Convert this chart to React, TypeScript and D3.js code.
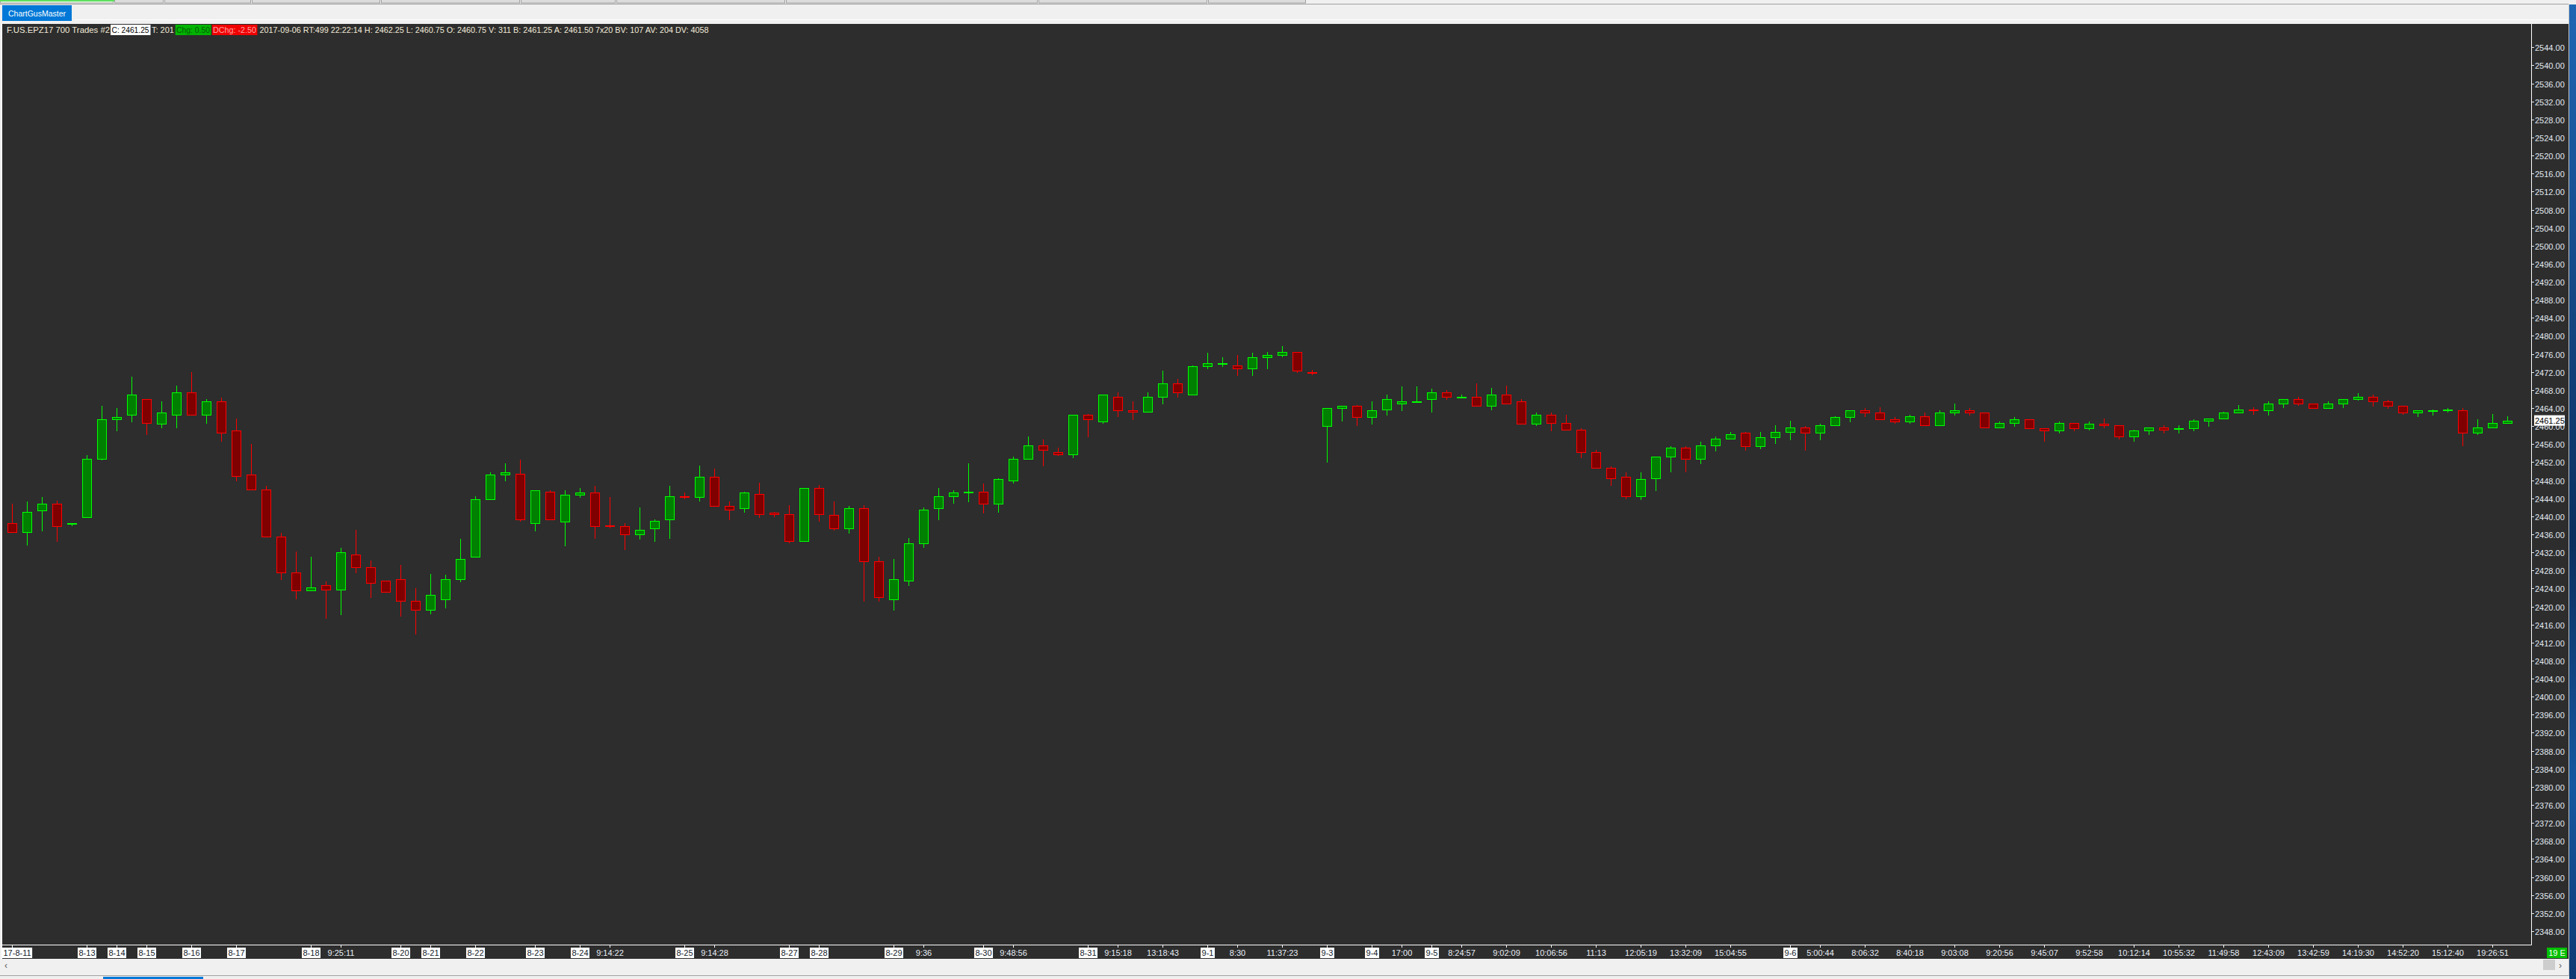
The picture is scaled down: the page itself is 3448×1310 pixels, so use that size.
import * as d3 from 'd3';

// OHLC bars (F.US.EPZ17, 700 trades per bar)
const opens = [
    2438.5, 2436.5, 2441.25, 2442.75, 2438.5, 2439.75, 2452.75, 2461.5, 2462.5, 2466,
    2460.5, 2462.5, 2467.5, 2462.5, 2465.5, 2459, 2449.25, 2446, 2435.5, 2427.5,
    2423.5, 2424.75, 2423.75, 2431.5, 2428.75, 2425.75, 2426, 2421.25, 2419.25, 2421.5,
    2426, 2431, 2443.75, 2449.25, 2449.5, 2438.5, 2445.5, 2438.75, 2444.75, 2445.25,
    2438, 2437.75, 2436, 2437.25, 2439.25, 2444.5, 2444.25, 2448.75, 2442.25, 2441.75,
    2445, 2440.75, 2440.5, 2434.5, 2446.25, 2440.25, 2437.25, 2441.75, 2430, 2421.5,
    2425.75, 2434, 2441.75, 2444.5, 2445.25, 2445.5, 2442.75, 2448, 2452.75, 2455.75,
    2454.25, 2453.75, 2462.5, 2461, 2466.5, 2463.5, 2463.25, 2466.5, 2469.5, 2467,
    2473.25, 2474, 2473.5, 2472.75, 2475.25, 2475.75, 2476.5, 2472, 2460, 2464,
    2464.5, 2462, 2463.75, 2465, 2465.5, 2466, 2467.5, 2466.5, 2466.5, 2464.5,
    2467, 2465.5, 2460.5, 2462.5, 2460.75, 2459.25, 2454.25, 2450.75, 2448.75, 2444.5,
    2448.5, 2453.25, 2455.25, 2452.75, 2455.75, 2457.25, 2458.5, 2455.5, 2457.5, 2458.75,
    2459.75, 2458.5, 2460.25, 2462, 2463.5, 2463, 2461.5, 2461, 2462.25, 2460.25,
    2463, 2463.5, 2463, 2459.75, 2460.75, 2461.5, 2459.5, 2459, 2460.75, 2459.5,
    2460.5, 2460.25, 2457.75, 2459, 2459.75, 2459.5, 2459.5, 2461.25, 2461.75, 2463,
    2463.75, 2463.5, 2465, 2466, 2465, 2464, 2465, 2466, 2466.5, 2465.5,
    2464.5, 2463, 2463.5, 2463.5, 2463.5, 2458.5, 2459.75, 2460.75,
];
const highs = [
    2442.75, 2443.25, 2444.25, 2443.5, 2438.5, 2453.5, 2464.5, 2464, 2471, 2466,
    2465.5, 2469, 2472, 2466, 2466.25, 2461.75, 2456, 2446.75, 2436.25, 2432.25,
    2431, 2425.5, 2433, 2437, 2430.25, 2425.75, 2429.25, 2424, 2427.25, 2427,
    2435, 2444.5, 2449.75, 2451.75, 2452.5, 2445.75, 2445.75, 2445.75, 2446.25, 2446.75,
    2444.25, 2438.5, 2442, 2439.25, 2446.75, 2445.25, 2451.25, 2450.5, 2443.25, 2445.5,
    2447.5, 2441, 2442.5, 2446.25, 2447, 2443.25, 2442.25, 2442.5, 2431, 2430.5,
    2435.25, 2442, 2446.25, 2445.75, 2451.75, 2447.25, 2448.5, 2453.25, 2457.75, 2457,
    2455.25, 2462.5, 2462.75, 2467, 2467.5, 2465.5, 2467.5, 2472.25, 2470.5, 2473.5,
    2476.25, 2475.25, 2475.75, 2476.25, 2476.5, 2477.75, 2476.5, 2472.5, 2464, 2464.5,
    2464.75, 2465.5, 2467, 2468.75, 2468.75, 2468.25, 2468, 2467, 2469.5, 2468.5,
    2469, 2466, 2463, 2463, 2462.5, 2459.5, 2454.75, 2451, 2449.75, 2449.75,
    2453.25, 2455.5, 2455.5, 2456.5, 2457.75, 2458.75, 2458.75, 2458.75, 2460.25, 2461.25,
    2460, 2460.5, 2462.25, 2463.5, 2464, 2464.25, 2462, 2462.5, 2463, 2463.5,
    2465, 2464, 2463, 2461, 2462, 2461.5, 2459.5, 2461, 2460.75, 2461,
    2461.75, 2460.25, 2459.25, 2459.75, 2460.25, 2460.25, 2461.5, 2461.75, 2463.25, 2464.75,
    2464.25, 2465.5, 2466, 2466.5, 2465, 2465.5, 2466, 2467.25, 2467, 2465.75,
    2464.5, 2463.5, 2463.75, 2464, 2464, 2461.5, 2462.75, 2462.25,
];
const lows = [
    2436.5, 2433.75, 2436.75, 2434.5, 2438, 2439.75, 2452.5, 2459, 2461, 2458.25,
    2459.75, 2459.75, 2462.5, 2460.75, 2456.75, 2448, 2446, 2435.5, 2426, 2421.75,
    2423.5, 2417.5, 2418.25, 2427.5, 2422, 2423.25, 2418, 2414, 2418.5, 2419.75,
    2425.5, 2431, 2443.75, 2448, 2439, 2436.75, 2439.25, 2433.5, 2444.25, 2435.25,
    2437.5, 2432.75, 2435, 2434.5, 2435.25, 2444, 2443.5, 2442.25, 2439.25, 2441,
    2439.75, 2440, 2434.25, 2434.5, 2439, 2437, 2436.25, 2421.25, 2421.25, 2419.25,
    2424.75, 2433.25, 2439.25, 2443, 2443.25, 2440.75, 2441, 2447.5, 2452.75, 2451.25,
    2453.5, 2453, 2457.75, 2460.75, 2462.25, 2461.5, 2463.25, 2465, 2466.5, 2467,
    2472.75, 2473.25, 2471.25, 2471.25, 2472.75, 2475.5, 2472, 2471.5, 2452, 2461.25,
    2460.25, 2460.5, 2462.5, 2463.5, 2465.5, 2463.25, 2466, 2466.25, 2464.5, 2463.75,
    2465, 2460.5, 2460.25, 2459, 2459.25, 2453, 2450.75, 2447, 2444, 2443.75,
    2445.75, 2450, 2450, 2451.75, 2454.5, 2457.25, 2454.75, 2455, 2456.25, 2457,
    2454.75, 2457, 2460.25, 2461, 2462.25, 2461.5, 2460.75, 2460.75, 2460.25, 2460.25,
    2462.5, 2462.5, 2459.75, 2459.75, 2460, 2459.5, 2456.75, 2458.5, 2459, 2459.25,
    2459.75, 2457.25, 2456.75, 2458.25, 2458.5, 2458.5, 2459, 2460, 2461.75, 2463,
    2462.75, 2462.5, 2464.25, 2464.75, 2464, 2464, 2464.25, 2465.75, 2464.5, 2464,
    2462.75, 2462.25, 2462.5, 2463.25, 2455.75, 2458.25, 2459.75, 2460.75,
];
const closes = [
    2436.5, 2441, 2442.75, 2437.75, 2438.5, 2452.75, 2461.5, 2462, 2467, 2460.75,
    2463, 2467.5, 2462.5, 2465.5, 2458.5, 2449, 2446, 2435.5, 2427.5, 2423.5,
    2424.25, 2423.75, 2432, 2428.75, 2425.25, 2423.25, 2421.25, 2419.25, 2422.5, 2426,
    2430.5, 2443.75, 2449.25, 2449.75, 2439.25, 2445.75, 2439.25, 2444.75, 2445.25, 2437.75,
    2437.75, 2436, 2437, 2439, 2444.5, 2444.25, 2448.75, 2442.25, 2441.5, 2445.25,
    2440.5, 2440.5, 2434.5, 2446.25, 2440.5, 2437.25, 2441.75, 2430, 2422, 2426,
    2434, 2441.5, 2444.5, 2445.25, 2445.5, 2442.75, 2448.25, 2452.75, 2455.75, 2454.75,
    2453.75, 2462.5, 2461.5, 2467, 2463.5, 2463.25, 2466.5, 2469.5, 2467.5, 2473.25,
    2474, 2474, 2472.75, 2475.25, 2475.75, 2476.5, 2472.25, 2471.75, 2464, 2464.5,
    2462, 2463.5, 2466, 2465.5, 2465.5, 2467.5, 2466.5, 2466.5, 2464.5, 2467,
    2465, 2460.5, 2462.5, 2460.75, 2459.25, 2454.25, 2450.75, 2448.5, 2444.5, 2448.25,
    2453.25, 2455.25, 2452.75, 2455.75, 2457.25, 2458.25, 2455.5, 2457.5, 2458.75, 2459.75,
    2458.5, 2460.25, 2462, 2463.5, 2463, 2461.5, 2461, 2462.25, 2460.25, 2463,
    2463.5, 2463, 2459.75, 2460.75, 2461.5, 2459.5, 2459, 2460.75, 2459.5, 2460.5,
    2460.25, 2457.75, 2459, 2459.75, 2459.25, 2459.5, 2461.25, 2461.75, 2463, 2463.75,
    2463.5, 2465, 2466, 2465, 2464, 2465, 2466, 2466.5, 2465.5, 2464.5,
    2463, 2463.5, 2463.5, 2463.75, 2458.5, 2459.75, 2460.75, 2461.25,
];

// time axis labels: bar index -> text (dates get a white box)
const tickIndex = [
    0, 5, 7, 9, 12, 15, 20, 22, 26, 28, 31, 35, 38, 40, 45, 47, 52, 54, 59, 61,
    65, 67, 72, 74, 77, 80, 82, 85, 88, 91, 93, 95, 97, 100, 103, 106, 109, 112, 115, 119,
    121, 124, 127, 130, 133, 136, 139, 142, 145, 148, 151, 154, 157, 160, 163, 166,
];
const tickLabels = [
    '17-8-11', '8-13', '8-14', '8-15', '8-16', '8-17', '8-18', '9:25:11', '8-20', '8-21',
    '8-22', '8-23', '8-24', '9:14:22', '8-25', '9:14:28', '8-27', '8-28', '8-29', '9:36',
    '8-30', '9:48:56', '8-31', '9:15:18', '13:18:43', '9-1', '8:30', '11:37:23', '9-3', '9-4',
    '17:00', '9-5', '8:24:57', '9:02:09', '10:06:56', '11:13', '12:05:19', '13:32:09', '15:04:55', '9-6',
    '5:00:44', '8:06:32', '8:40:18', '9:03:08', '9:20:56', '9:45:07', '9:52:58', '10:12:14', '10:55:32', '11:49:58',
    '12:43:09', '13:42:59', '14:19:30', '14:52:20', '15:12:40', '19:26:51',
];
const priceTicks = d3.range(2348, 2545, 4);
const lastPrice = 2461.25;

const headerSymbol = 'F.US.EPZ17  700 Trades  #2';
const headerClose = 'C: 2461.25';
const headerTicks = 'T: 201';
const headerChg = 'Chg: 0.50';
const headerDChg = 'DChg: -2.50';
const headerInfo = '2017-09-06 RT:499 22:22:14 H: 2462.25 L: 2460.75 O: 2460.75 V: 311 B: 2461.25 A: 2461.50 7x20 BV: 107 AV: 204 DV: 4058';

const W = 3448;
const H = 1310;
const FONT = '"Liberation Sans", Arial, sans-serif';

export default function App() {
    return (
        <svg
            width={W}
            height={H}
            style={{ position: 'absolute', left: 0, top: 0, display: 'block' }}
            ref={(node: SVGSVGElement) => {
                if (!node) return;
                const svg = d3.select(node);
                svg.selectAll('*').remove();
                svg.attr('font-family', FONT).attr('font-size', 11);

                const plot = { left: 3, right: 3388, top: 32, bottom: 1264 };

                // window chrome
                svg.append('rect').attr('width', W).attr('height', H).attr('fill', '#f0f0f0');

                const defs = svg.append('defs');
                const grad = defs.append('linearGradient').attr('id', 'desk').attr('x1', 0).attr('y1', 0).attr('x2', 0).attr('y2', 1);
                grad.append('stop').attr('offset', '0%').attr('stop-color', '#1f66b3');
                grad.append('stop').attr('offset', '55%').attr('stop-color', '#0b2f5e');
                grad.append('stop').attr('offset', '80%').attr('stop-color', '#1558a0');
                grad.append('stop').attr('offset', '100%').attr('stop-color', '#0d3a73');
                svg.append('rect').attr('x', 3439).attr('y', 6).attr('width', 9).attr('height', H - 6).attr('fill', 'url(#desk)');

                defs.append('clipPath').attr('id', 'plotClip')
                    .append('rect').attr('x', plot.left).attr('y', plot.top)
                    .attr('width', plot.right - plot.left).attr('height', plot.bottom - plot.top);

                // tab strip on top
                const tabEdges = [0, 153, 220, 337, 510, 697, 825, 1052, 1390, 1617, 1749];
                tabEdges.slice(0, -1).forEach((x0, i) => {
                    svg.append('rect').attr('x', x0 + 0.5).attr('y', -1).attr('width', tabEdges[i + 1] - x0 - 2).attr('height', 5)
                        .attr('fill', i === 0 ? '#e8f8e8' : '#dcdcdc').attr('stroke', '#a0a0a0');
                });
                svg.append('rect').attr('x', 0).attr('y', 0).attr('width', 153).attr('height', 2).attr('fill', '#5ee05e');
                svg.append('line').attr('x1', 0).attr('x2', 3438).attr('y1', 5.5).attr('y2', 5.5).attr('stroke', '#a0a0a0');
                svg.append('line').attr('x1', 100).attr('x2', 3437).attr('y1', 26.5).attr('y2', 26.5).attr('stroke', '#ffffff');

                svg.append('rect').attr('x', 3).attr('y', 7).attr('width', 93).attr('height', 21).attr('fill', '#0078d7');
                svg.append('text').attr('x', 49.5).attr('y', 21.5).attr('text-anchor', 'middle')
                    .attr('fill', '#ffffff').attr('font-size', 10.5).text('ChartGusMaster');

                // chart panel
                svg.append('rect').attr('x', 3).attr('y', plot.top).attr('width', 3435).attr('height', 1283 - plot.top).attr('fill', '#2d2d2d');
                svg.append('line').attr('x1', 2.5).attr('x2', 2.5).attr('y1', plot.top).attr('y2', 1283).attr('stroke', '#ffffff');
                svg.append('line').attr('x1', 3438.5).attr('x2', 3438.5).attr('y1', 6).attr('y2', 1306).attr('stroke', '#c8c8c8');

                // scales
                const x = d3.scaleBand<number>()
                    .domain(d3.range(opens.length))
                    .range([5.6, 5.6 + 20 * opens.length])
                    .paddingInner(0.4)
                    .paddingOuter(0.2);
                const y = d3.scaleLinear().domain([2348, 2544]).range([1246, 63.3]);

                // candles
                const candles = svg.append('g').attr('clip-path', 'url(#plotClip)').attr('shape-rendering', 'crispEdges');
                opens.forEach((o, i) => {
                    const c = closes[i];
                    const up = c >= o;
                    const stroke = up ? '#00ff00' : '#ff0000';
                    const fill = up ? '#008000' : '#800000';
                    const bx = Math.round(x(i) || 0);
                    const cx = bx + 6.5;
                    candles.append('line')
                        .attr('x1', cx).attr('x2', cx)
                        .attr('y1', Math.round(y(highs[i]))).attr('y2', Math.round(y(lows[i])) + 1)
                        .attr('stroke', stroke).attr('stroke-width', 1);
                    const top = Math.round(y(Math.max(o, c))) + 0.5;
                    const bottom = Math.round(y(Math.min(o, c))) + 0.5;
                    candles.append('rect')
                        .attr('x', bx + 0.5).attr('y', top)
                        .attr('width', 12).attr('height', Math.max(bottom - top, 1))
                        .attr('fill', fill).attr('stroke', stroke).attr('stroke-width', 1);
                });

                // axis lines
                svg.append('line').attr('x1', plot.left).attr('x2', plot.right + 0.5)
                    .attr('y1', plot.bottom + 0.5).attr('y2', plot.bottom + 0.5).attr('stroke', '#ffffff');
                svg.append('line').attr('x1', plot.right + 0.5).attr('x2', plot.right + 0.5)
                    .attr('y1', plot.top).attr('y2', plot.bottom + 0.5).attr('stroke', '#ffffff');

                // price axis
                const yAxis = svg.append('g');
                priceTicks.forEach((p) => {
                    const py = Math.round(y(p)) + 0.5;
                    yAxis.append('line').attr('x1', 3389).attr('x2', 3392).attr('y1', py).attr('y2', py).attr('stroke', '#e6ecf2');
                    yAxis.append('text').attr('x', 3393).attr('y', py + 4).attr('fill', '#e2eaf2').text(p.toFixed(2));
                });
                const ly = y(lastPrice);
                yAxis.append('rect').attr('x', 3392).attr('y', ly - 7).attr('width', 41).attr('height', 14).attr('fill', '#ffffff');
                yAxis.append('text').attr('x', 3393).attr('y', ly + 4).attr('fill', '#000000').text(lastPrice.toFixed(2));

                // time axis
                const xAxis = svg.append('g');
                tickIndex.forEach((ti, k) => {
                    const tx = Math.round(x(ti) || 0) + 6.5;
                    const label = tickLabels[k];
                    const isDate = label.includes('-');
                    xAxis.append('line').attr('x1', tx).attr('x2', tx).attr('y1', plot.bottom + 1).attr('y2', plot.bottom + 4)
                        .attr('stroke', '#ffffff');
                    const t = xAxis.append('text').attr('x', tx).attr('y', 1279).attr('text-anchor', 'middle')
                        .attr('fill', isDate ? '#101828' : '#e8eef6').text(label);
                    if (isDate) {
                        const w = (t.node() as SVGTextElement).getComputedTextLength();
                        // keep the first box inside the panel, as the platform does
                        const left = Math.max(tx - w / 2 - 1.5, plot.left);
                        t.attr('text-anchor', 'start').attr('x', left + 1.5);
                        xAxis.insert('rect', () => t.node() as SVGTextElement)
                            .attr('x', left).attr('y', 1268).attr('width', w + 3).attr('height', 14)
                            .attr('fill', '#ffffff');
                    }
                });

                svg.append('rect').attr('x', 3409).attr('y', 1268).attr('width', 27).attr('height', 14).attr('fill', '#00c000');
                svg.append('text').attr('x', 3422.5).attr('y', 1279).attr('text-anchor', 'middle').attr('fill', '#ffffff').text('19 E');

                // header line
                const header = svg.append('g').style('white-space', 'pre');
                header.append('text').attr('x', 9).attr('y', 44).attr('fill', '#f2ead8')
                    .attr('textLength', 138).attr('lengthAdjust', 'spacingAndGlyphs').text(headerSymbol);
                header.append('rect').attr('x', 148).attr('y', 33).attr('width', 53.5).attr('height', 14).attr('fill', '#ffffff');
                header.append('text').attr('x', 149.5).attr('y', 44).attr('fill', '#000000')
                    .attr('textLength', 50).attr('lengthAdjust', 'spacingAndGlyphs').text(headerClose);
                header.append('text').attr('x', 203).attr('y', 44).attr('fill', '#f2ead8')
                    .attr('textLength', 30).attr('lengthAdjust', 'spacingAndGlyphs').text(headerTicks);
                header.append('rect').attr('x', 234.7).attr('y', 33).attr('width', 47.8).attr('height', 14).attr('fill', '#00b400');
                header.append('text').attr('x', 236).attr('y', 44).attr('fill', '#005a00')
                    .attr('textLength', 45).attr('lengthAdjust', 'spacingAndGlyphs').text(headerChg);
                header.append('rect').attr('x', 283.8).attr('y', 33).attr('width', 60.6).attr('height', 14).attr('fill', '#f00000');
                header.append('text').attr('x', 285).attr('y', 44).attr('fill', '#ffa8a8')
                    .attr('textLength', 58).attr('lengthAdjust', 'spacingAndGlyphs').text(headerDChg);
                header.append('text').attr('x', 347.6).attr('y', 44).attr('fill', '#f2ead8')
                    .attr('textLength', 601).attr('lengthAdjust', 'spacingAndGlyphs').text(headerInfo);

                // scrollbar strip
                svg.append('text').attr('x', 6).attr('y', 1296).attr('fill', '#606060').attr('font-size', 12).text('‹');
                svg.append('rect').attr('x', 3404).attr('y', 1284).attr('width', 16).attr('height', 14).attr('fill', '#cdcdcd');
                svg.append('text').attr('x', 3425).attr('y', 1296).attr('fill', '#606060').attr('font-size', 12).text('›');
                svg.append('line').attr('x1', 0).attr('x2', 3438).attr('y1', 1305.5).attr('y2', 1305.5).attr('stroke', '#a0a0a0');
                svg.append('rect').attr('x', 138).attr('y', 1307).attr('width', 134).attr('height', 3).attr('fill', '#0078d7');
            }}
        />
    );
}
